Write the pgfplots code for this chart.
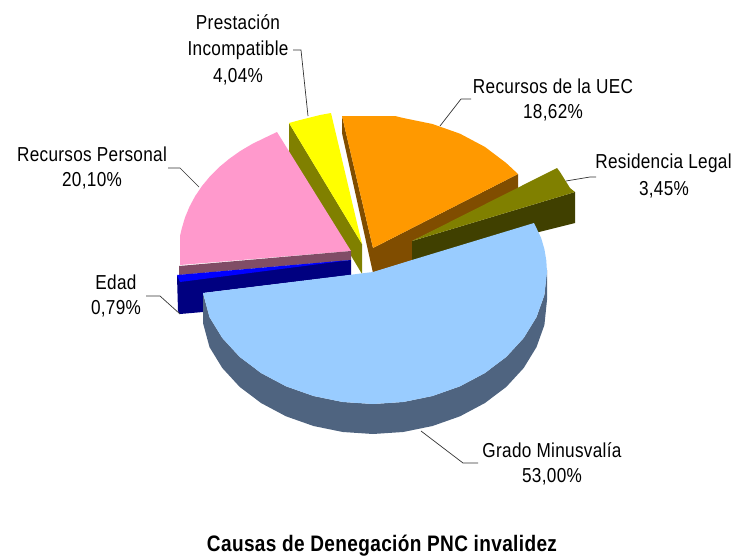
\documentclass[border=0pt]{standalone}
\usepackage{pgfplots}
\usepackage{fontspec}
\setmainfont[FakeStretch=0.85,LetterSpace=1.6]{Liberation Sans}
\pgfplotsset{compat=1.18}
\definecolor{cBlue}{HTML}{99CCFF}
\definecolor{cBlueS}{HTML}{4F6480}
\definecolor{cOrange}{HTML}{FF9900}
\definecolor{cOrangeS}{HTML}{804D00}
\definecolor{cOlive}{HTML}{808000}
\definecolor{cOliveS}{HTML}{404000}
\definecolor{cPink}{HTML}{FF99CC}
\definecolor{cPinkS}{HTML}{804D66}
\definecolor{cNavy}{HTML}{000080}
\definecolor{cYellow}{HTML}{FFFF00}
\definecolor{cBright}{HTML}{0000FF}
\tikzset{
  lbl/.style={font=\fontsize{20.2}{22}\selectfont, text=black, inner sep=0pt, anchor=center, align=center},
}
\pgfplotsset{
  face/.style={draw=none, fill=#1, no markers},
  leader/.style={draw=black!80, line width=0.7pt, no markers},
}
\begin{document}
\begin{tikzpicture}
\begin{axis}[
    scale only axis, width=732pt, height=560pt,
    xmin=0, xmax=732, ymin=0, ymax=560, y dir=reverse,
    hide axis, clip=false,
]
\path (axis cs:0,0) rectangle (axis cs:732,560);
% Prestacion Incompatible
\addplot[face=cOlive] coordinates {(289,123)(362,244)(362,274)(289,152)};
\addplot[face=cYellow] coordinates {(289,123)(300,120)(310,117.5)(320,115)(331,113)(362,244)};
% Recursos Personal
\addplot[face=cPink] coordinates {(351,251)(277,132)(265,137.7)(252.3,143.9)(240.4,150.9)(229.4,158.7)(219.2,167.1)(210.1,176.2)(202,186)(195.1,196.2)(189.4,206.9)(184.9,217.8)(181.6,229.1)(180,236)(180,265)};
\addplot[face=cPinkS] coordinates {(179,266)(351,251)(351,260)(179,275)};
% Edad
\addplot[face=cNavy] coordinates {(177,276)(351,260)(351,275)(203,293)(203,312)(180,314)(178,311)};
\addplot[face=cBright] coordinates {(177,275)(351,260)(180,282)};
% Recursos de la UEC
\addplot[face=cOrangeS] coordinates {(342,116)(373,248)(518,174)(518,190)(412,241)(412,262)(373,273)(342,133)};
\addplot[face=cOrange] coordinates {(342,116)(395,116)(403.3,118)(432.5,124)(460,133.7)(484.9,146.9)(506.3,163.1)(518,174)(373,248)};
% Residencia Legal
\addplot[face=cOliveS] coordinates {(412,241)(575,192)(575,223)(412,264)};
\addplot[face=cOlive] coordinates {(412,241)(557,168)(560,172)(565,180)(570,188)(575,192)};
% Grado Minusvalia
\addplot[face=cBlueS] coordinates {(547,270)(544.4,295)(536.5,317.1)(523.7,338)(506.3,356.9)(484.8,373.1)(460,386.3)(432.5,396)(403.2,402)(373,404)(342.8,402)(313.5,396)(286,386.3)(261.2,373.1)(239.7,356.9)(222.3,338)(209.5,317.1)(203,293)(203,323)(209.5,347.1)(222.3,368)(239.7,386.9)(261.2,403.1)(286,416.3)(313.5,426)(342.8,432)(373,434)(403.2,432)(432.5,426)(460,416.3)(484.8,403.1)(506.3,386.9)(523.7,368)(536.5,347.1)(544.4,325)(547,300)};
\addplot[face=cBlue] coordinates {(203,293)(373,272)(412,260)(534,223)(541.1,237.8)(544.4,249.1)(546.3,260.5)(547,272)(544.4,295)(536.5,317.1)(523.7,338)(506.3,356.9)(484.8,373.1)(460,386.3)(432.5,396)(403.2,402)(373,404)(342.8,402)(313.5,396)(286,386.3)(261.2,373.1)(239.7,356.9)(222.3,338)(209.5,317.1)};
% leader lines
\addplot[leader] coordinates {(308,116)(301,50)(293,50)};
\addplot[leader] coordinates {(440,126)(461,99)(471,99)};
\addplot[leader] coordinates {(566,181)(590,177)(596,177)};
\addplot[leader] coordinates {(199,187)(180,168)(168,168)};
\addplot[leader] coordinates {(180,314)(160,296)(146,296)};
\addplot[leader] coordinates {(421,431)(463,463)(478,463)};
% labels
\node[lbl] at (axis cs:238,22) {Prestación};
\node[lbl] at (axis cs:238,50) {Incompatible};
\node[lbl] at (axis cs:238,77) {4,04\%};
\node[lbl] at (axis cs:553,86) {Recursos de la UEC};
\node[lbl] at (axis cs:553,113) {18,62\%};
\node[lbl] at (axis cs:663.5,163) {Residencia Legal};
\node[lbl] at (axis cs:664,190) {3,45\%};
\node[lbl] at (axis cs:92,154) {Recursos Personal};
\node[lbl] at (axis cs:92,181) {20,10\%};
\node[lbl] at (axis cs:116,282) {Edad};
\node[lbl] at (axis cs:116,309) {0,79\%};
\node[lbl] at (axis cs:552,450) {Grado Minusvalía};
\node[lbl] at (axis cs:552,477) {53,00\%};
\node[lbl, font=\fontsize{22.4}{24}\selectfont\bfseries] at (axis cs:382,546) {Causas de Denegación PNC invalidez};
\end{axis}
\end{tikzpicture}
\end{document}
